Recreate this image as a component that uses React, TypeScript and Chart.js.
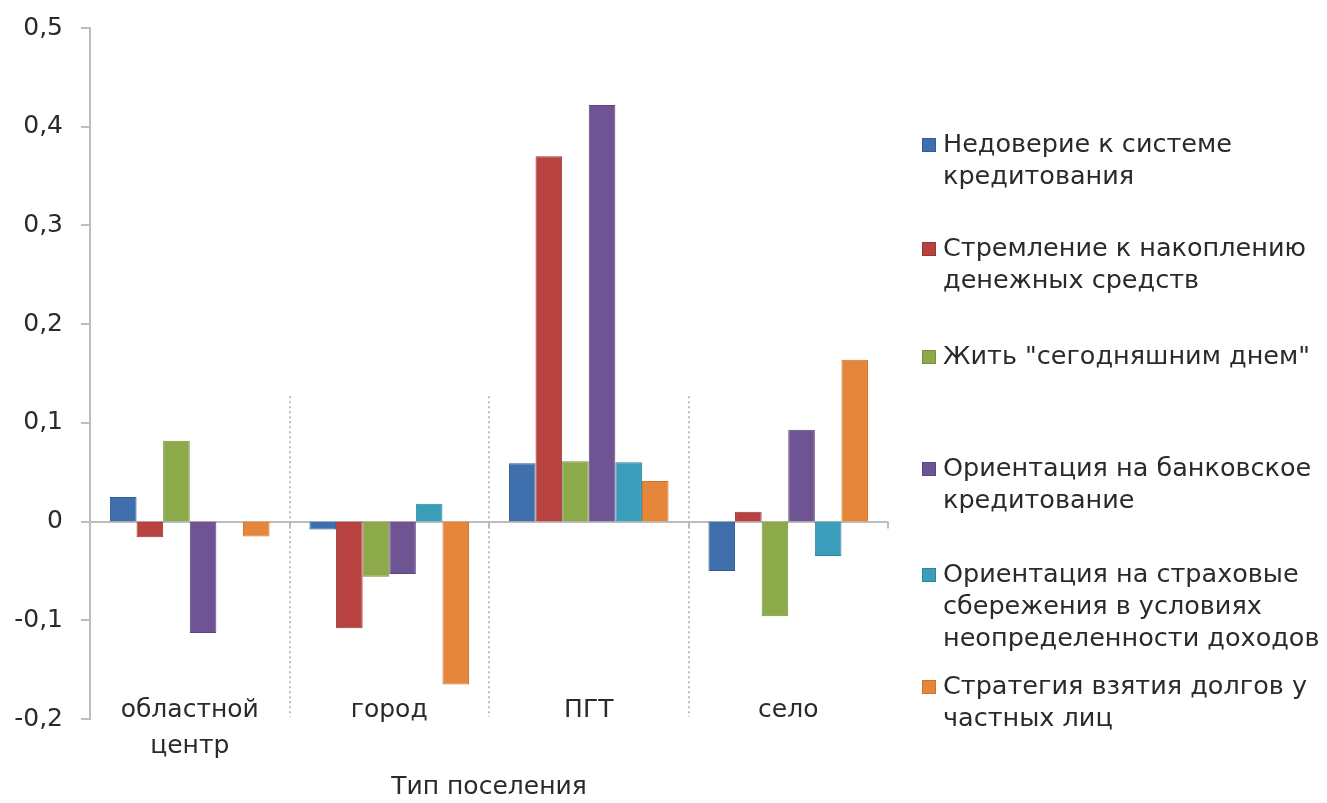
import React, { useEffect, useRef } from "react";
import { Chart, registerables } from "chart.js";

Chart.register(...registerables);

// ---- data ----
const categories: string[][] = [["областной", "центр"], ["город"], ["ПГТ"], ["село"]];
const seriesNames: string[][] = [
  ["Недоверие к системе", "кредитования"],
  ["Стремление к накоплению", "денежных средств"],
  ["Жить \"сегодняшним днем\""],
  ["Ориентация на банковское", "кредитование"],
  ["Ориентация на страховые", "сбережения в условиях", "неопределенности доходов"],
  ["Стратегия взятия долгов у", "частных лиц"],
];
const distrust = [0.025, -0.008, 0.059, -0.05];
const saving = [-0.016, -0.108, 0.37, 0.01];
const liveToday = [0.082, -0.056, 0.061, -0.096];
const bankCredit = [-0.113, -0.053, 0.422, 0.093];
const insurance = [0.0, 0.018, 0.06, -0.035];
const privateDebt = [-0.015, -0.165, 0.041, 0.164];
const yMin = -0.2;
const yMax = 0.5;
const yStep = 0.1;
const axisTitle = "Тип поселения";

const seriesValues = [distrust, saving, liveToday, bankCredit, insurance, privateDebt];
const fillColors = ["#3F6FAD", "#B8423F", "#8DAA4B", "#6F5493", "#3A9DBA", "#E5863A"];
const borderColors = ["#335C92", "#9A3532", "#768F3C", "#5C457C", "#2F849D", "#C97330"];

const FONT = "'DejaVu Sans', sans-serif";
const TEXT = "#2a2a2a";
const AXIS = "#BDBDBD";

const separatorPlugin = {
  id: "separators",
  beforeDatasetsDraw(chart: any) {
    const { ctx, chartArea, scales } = chart;
    const y = scales.y;
    const n = categories.length;
    const w = (chartArea.right - chartArea.left) / n;
    const y0 = y.getPixelForValue(0);
    const yTop = y.getPixelForValue(0.127);
    ctx.save();
    ctx.strokeStyle = "#A8A8A8";
    ctx.lineWidth = 1.5;
    ctx.setLineDash([2, 3]);
    for (let k = 1; k < n; k++) {
      const px = Math.round(chartArea.left + k * w);
      ctx.beginPath();
      ctx.moveTo(px, yTop);
      ctx.lineTo(px, chartArea.bottom - 2);
      ctx.stroke();
    }
    ctx.setLineDash([]);
    ctx.strokeStyle = AXIS;
    ctx.lineWidth = 2;
    for (let k = 1; k <= n; k++) {
      const px = Math.round(chartArea.left + k * w);
      ctx.beginPath();
      ctx.moveTo(px, y0);
      ctx.lineTo(px, y0 + 7);
      ctx.stroke();
    }
    ctx.restore();
  },
  afterDraw(chart: any) {
    const { ctx, chartArea, scales } = chart;
    const x = scales.x;
    ctx.save();
    ctx.font = `25px ${FONT}`;
    ctx.fillStyle = TEXT;
    ctx.textAlign = "center";
    ctx.textBaseline = "middle";
    categories.forEach((lines, i) => {
      const px = x.getPixelForValue(i);
      lines.forEach((l, j) => {
        ctx.fillText(l, px, chartArea.bottom - 9 + j * 36);
      });
    });
    ctx.restore();
  },
};

const legendTops = [127, 231, 339, 451, 557, 669];

export default function App() {
  const canvasRef = useRef<HTMLCanvasElement | null>(null);

  useEffect(() => {
    if (!canvasRef.current) return;
    const chart = new Chart(canvasRef.current, {
      type: "bar",
      data: {
        labels: categories.map((c) => c.join(" ")),
        datasets: seriesValues.map((vals, i) => ({
          label: seriesNames[i].join(" "),
          data: vals,
          backgroundColor: fillColors[i],
          borderColor: borderColors[i],
          borderWidth: 1,
          barPercentage: 1,
          categoryPercentage: 0.8,
        })),
      },
      options: {
        responsive: false,
        animation: false,
        devicePixelRatio: 1,
        layout: { padding: { top: 28, right: 439, left: 0, bottom: 0 } },
        plugins: { legend: { display: false }, tooltip: { enabled: false } },
        scales: {
          x: {
            type: "category",
            grid: { display: false, drawTicks: false },
            border: { display: false },
            ticks: { display: false },
            title: {
              display: true,
              text: axisTitle,
              font: { family: FONT, size: 25, lineHeight: 1.2 },
              color: TEXT,
              padding: { top: 0, bottom: 1 },
            },
            afterFit: (s: any) => {
              s.height = 84;
            },
          },
          y: {
            min: yMin,
            max: yMax,
            afterFit: (s: any) => {
              s.width = 90;
              s.paddingTop = 0;
              s.paddingBottom = 0;
            },
            ticks: {
              stepSize: yStep,
              font: { family: FONT, size: 25, lineHeight: 1 },
              color: TEXT,
              padding: 18,
              callback: (v: any) => {
                const r = Math.round(Number(v) * 10) / 10;
                return r === 0 ? "0" : r.toFixed(1).replace(".", ",");
              },
            },
            grid: {
              drawOnChartArea: true,
              color: (c: any) => (c.tick && Math.abs(c.tick.value) < 1e-9 ? AXIS : "rgba(0,0,0,0)"),
              tickColor: AXIS,
              tickLength: 9,
              lineWidth: 2,
            },
            border: { display: true, color: AXIS, width: 2 },
          },
        },
      },
      plugins: [separatorPlugin],
    });
    return () => chart.destroy();
  }, []);

  return (
    <div style={{ position: "absolute", left: 0, top: 0, width: 1327, height: 803, background: "#fff", overflow: "hidden" }}>
      <canvas ref={canvasRef} width={1327} height={803} style={{ position: "absolute", left: 0, top: 0 }} />
      {seriesNames.map((lines, i) => (
        <div key={i} style={{ position: "absolute", left: 922, top: legendTops[i], whiteSpace: "nowrap" }}>
          <div
            style={{
              position: "absolute",
              left: 0,
              top: 11,
              width: 12,
              height: 12,
              background: fillColors[i],
              border: `1px solid ${borderColors[i]}`,
            }}
          />
          <div
            style={{
              position: "absolute",
              left: 21,
              top: 0,
              fontFamily: FONT,
              fontSize: 25.5,
              lineHeight: "32px",
              color: TEXT,
            }}
          >
            {lines.map((l, j) => (
              <div key={j}>{l}</div>
            ))}
          </div>
        </div>
      ))}
    </div>
  );
}
